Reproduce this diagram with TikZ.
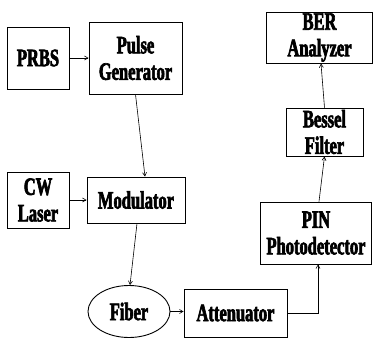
\documentclass[tikz,border=0pt]{standalone}
\usepackage{fontspec}
\newfontfamily\lblfont{Liberation Serif}[BoldFont={Liberation Serif Bold},BoldFeatures={FakeStretch=0.66,FakeBold=2.5}]
\usetikzlibrary{arrows.meta,shapes.geometric}
\begin{document}
\begin{tikzpicture}[x=1pt,y=-1pt,
  blk/.style={draw,line width=0.9pt,inner sep=0pt,align=center,
    font=\lblfont\bfseries\fontsize{25}{26.5}\selectfont},
  conn/.style={line width=0.6pt,-{Straight Barb[length=3.5pt,width=4pt]}}]
\useasboundingbox (0,0) rectangle (373,338);
\node[blk,minimum width=62,minimum height=62] (prbs) at (38,58) {PRBS};
\node[blk,minimum width=93,minimum height=72] (pulse) at (135.5,58) {Pulse\\Generator};
\node[blk,minimum width=62,minimum height=56] (cw) at (38,200) {CW\\Laser};
\node[blk,minimum width=98,minimum height=46] (mod) at (136,200) {Modulator};
\node[blk,ellipse,minimum width=82,minimum height=52] (fiber) at (129,311.5) {Fiber};
\node[blk,minimum width=103,minimum height=48] (att) at (235.5,313) {Attenuator};
\node[blk,minimum width=111,minimum height=62] (pin) at (316,233) {PIN\\Photodetector};
\node[blk,minimum width=77,minimum height=48] (bessel) at (324.5,132) {Bessel\\Filter};
\node[blk,minimum width=106,minimum height=51] (ber) at (319.5,37.5) {BER\\Analyzer};
\draw[conn] (prbs.east) -- (pulse.west |- prbs.east);
\draw[conn] (pulse.south) -- ([xshift=9pt]mod.north);
\draw[conn] (cw.east) -- (mod.west |- cw.east);
\draw[conn] ([xshift=1pt]mod.south) -- ([xshift=1pt]fiber.north);
\draw[conn] (fiber.east) -- (att.west |- fiber.east);
\draw[conn] (att.east) -| ([xshift=2pt]pin.south);
\draw[conn] ([xshift=3pt]pin.north) -- (bessel.south);
\draw[conn] (bessel.north) -- ([xshift=1.5pt]ber.south);
\end{tikzpicture}
\end{document}
